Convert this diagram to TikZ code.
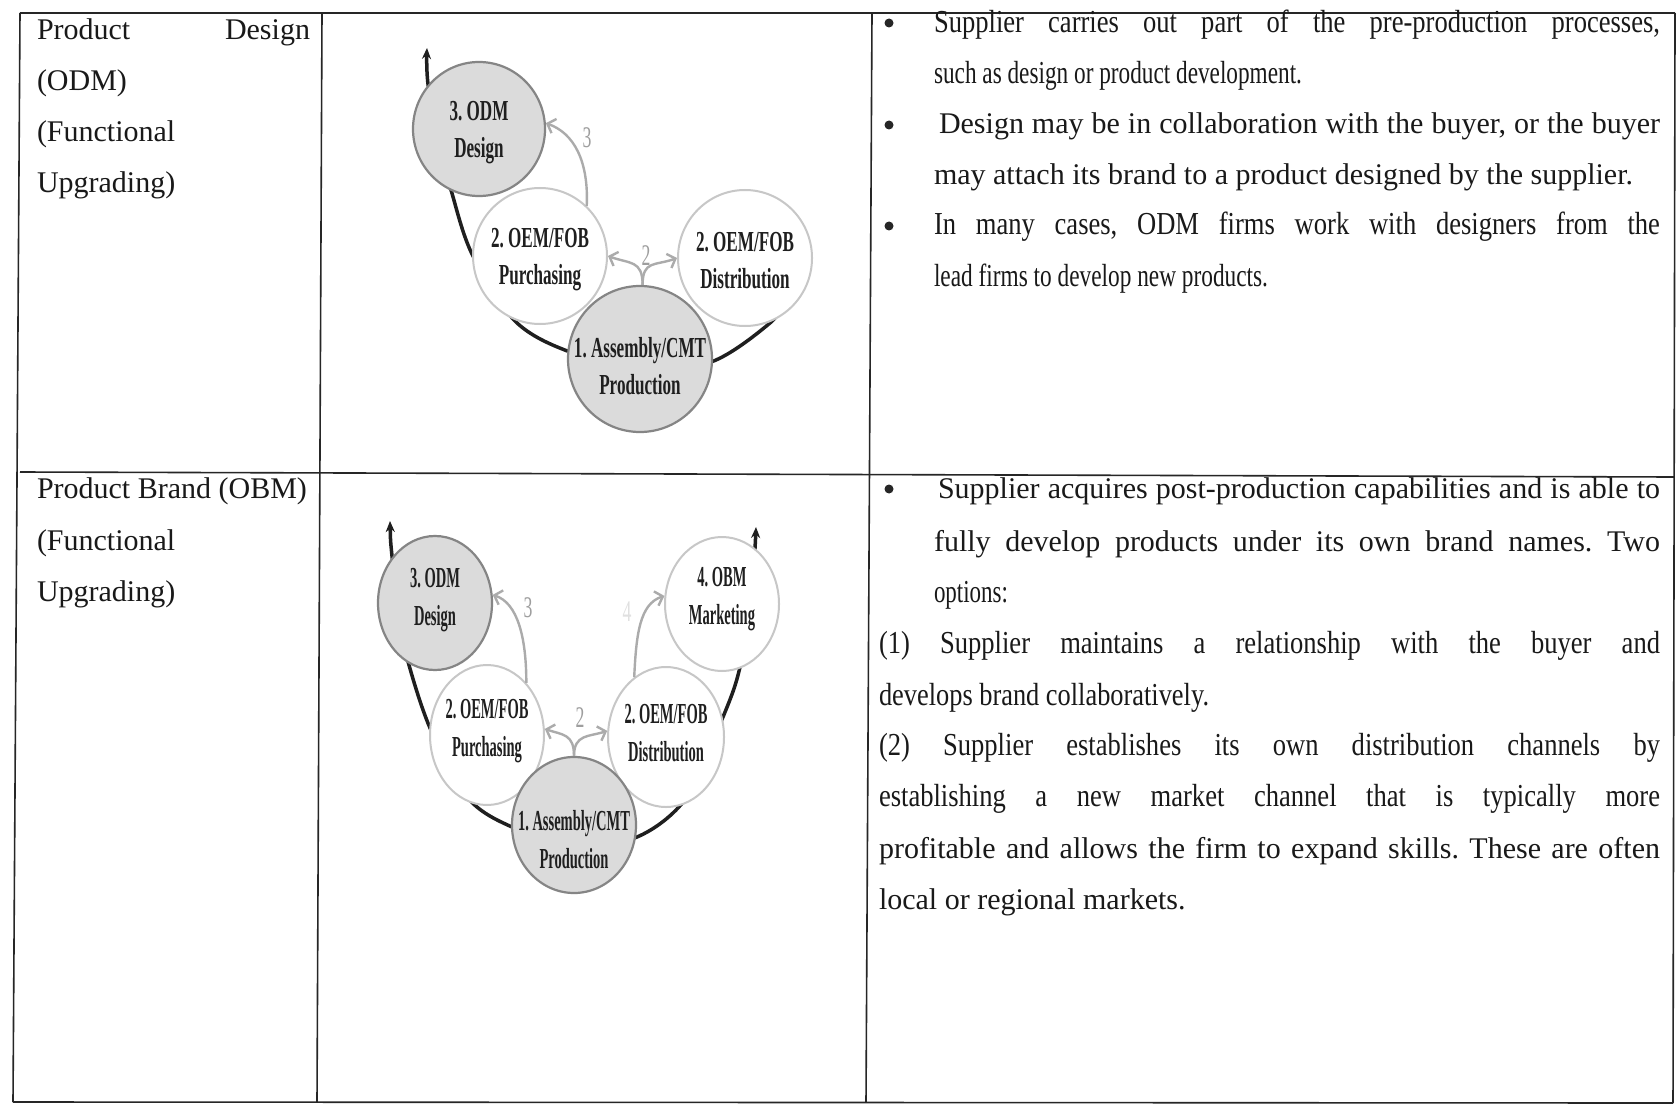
\documentclass[tikz,border=0pt]{standalone}
\usepackage{fontspec}
\setmainfont{Liberation Serif}
\newfontfamily\condf[FakeStretch=0.83]{Liberation Serif}
\newfontfamily\lblA[FakeStretch=0.59]{Liberation Serif}
\newfontfamily\lblB[FakeStretch=0.5]{Liberation Serif}
\usetikzlibrary{shapes.geometric,arrows.meta}
\frenchspacing

% a ragged line squeezed to a given width, height kept
\newcommand{\fitline}[2]{{\fontsize{32}{36}\selectfont\resizebox{#1}{\height}{#2}}}
% a narrow justified line
\newcommand{\narrowjust}[2]{{\condf\fontsize{32}{36}\selectfont\makebox[#1][s]{#2}}}

\begin{document}
\begin{tikzpicture}[x=1pt,y=-1pt,
  body/.style={font=\fontsize{30}{36}\selectfont, text=black!90, inner sep=0pt, outer sep=0pt, anchor=base west},
  dot/.style={circle, fill=black!85, inner sep=0pt, minimum size=9pt},
  rule/.style={line width=1.6pt, draw=black!85},
  darkc/.style={ellipse, draw=black!48, line width=2.2pt, fill=black!14, inner sep=0pt},
  lightc/.style={ellipse, draw=black!22, line width=2pt, fill=white, inner sep=0pt},
  lblone/.style={font=\lblA\bfseries\fontsize{29}{37}\selectfont, align=center, text=black!88, inner sep=0pt},
  lbltwo/.style={font=\lblB\bfseries\fontsize{29}{38}\selectfont, align=center, text=black!88, inner sep=0pt},
  upg/.style={line width=2.4pt, draw=black!33, arrows={-Straight Barb[length=7pt,width=15pt]}},
  upgnum/.style={font=\lblA\fontsize{30}{30}\selectfont, text=black!38, inner sep=0pt},
  smile/.style={line width=3.5pt, draw=black!88, line cap=round}
]
\fill[white] (0,0) rectangle (1677,1107);
\useasboundingbox (0,0) rectangle (1677,1107);

% ---- table rules ----
\draw[rule] (20,13) -- (1675,13);
\draw[rule] (20,472) -- (1674,477);
\draw[rule] (13,1102) -- (1673,1103);
\draw[rule] (20,13) -- (13,1102);
\draw[rule] (322,13) -- (317,1102);
\draw[rule] (872,13) -- (866,1102);
\draw[rule] (1675,13) -- (1673,1103);

% ---- first column ----
\node[body] (ta1) at (37,40) {\makebox[273pt][s]{Product Design}};
\node[body] (ta2) at (37,91) {(ODM)};
\node[body] (ta3) at (37,142) {(Functional};
\node[body] (ta4) at (37,193) {Upgrading)};
\node[body] (tb1) at (37,498) {Product Brand (OBM)};
\node[body] (tb2) at (37,550) {(Functional};
\node[body] (tb3) at (37,601) {Upgrading)};

% ---- third column, upper row ----
\node[dot] (u1) at (889,23) {};
\node[body] (ua1) at (934,33) {\narrowjust{726pt}{Supplier carries out part of the pre-production processes,}};
\node[body] (ua2) at (934,84) {\fitline{368pt}{such as design or product development.}};
\node[dot] (u2) at (889,125) {};
\node[body] (ua3) at (939,134) {\makebox[721pt][s]{Design may be in collaboration with the buyer, or the buyer}};
\node[body] (ua4) at (934,185) {may attach its brand to a product designed by the supplier.};
\node[dot] (u3) at (889,226) {};
\node[body] (ua5) at (934,235) {\narrowjust{726pt}{In many cases, ODM firms work with designers from the}};
\node[body] (ua6) at (934,286) {\fitline{334pt}{lead firms to develop new products.}};

% ---- third column, lower row ----
\node[dot] (v1) at (889,489) {};
\node[body] (va1) at (938,498) {\makebox[722pt][s]{Supplier acquires post-production capabilities and is able to}};
\node[body] (va2) at (934,551) {\makebox[726pt][s]{fully develop products under its own brand names. Two}};
\node[body] (va3) at (934,602) {\fitline{74pt}{options:}};
\node[body] (va4) at (879,653) {\narrowjust{781pt}{(1) Supplier maintains a relationship with the buyer and}};
\node[body] (va5) at (879,705) {\fitline{330pt}{develops brand collaboratively.}};
\node[body] (va6) at (879,755) {\narrowjust{781pt}{(2) Supplier establishes its own distribution channels by}};
\node[body] (va7) at (879,806) {\narrowjust{781pt}{establishing a new market channel that is typically more}};
\node[body] (va8) at (879,858) {\makebox[781pt][s]{profitable and allows the firm to expand skills. These are often}};
\node[body] (va9) at (879,909) {local or regional markets.};

% ---- upper diagram: smile curve behind the stages ----
\coordinate (oa) at (427,48);
\coordinate (ob) at (428,84);
\coordinate (oc) at (440,150);
\coordinate (od) at (451,190);
\coordinate (oe) at (472,254);
\coordinate (of) at (515,321);
\coordinate (og) at (570,352);
\coordinate (oh) at (640,368);
\coordinate (oi) at (711,362);
\coordinate (oj) at (770,323);
\coordinate (ok) at (785,300);
\draw[smile, arrows={-Stealth[length=11pt,width=9pt]}] plot[smooth, tension=0.55]
  coordinates {(ok) (oj) (oi) (oh) (og) (of) (oe) (od) (oc) (ob) (oa)};

\node[darkc, minimum width=132pt, minimum height=134pt] (odesign) at (479,129) {};
\node[lightc, minimum width=134pt, minimum height=136pt] (opurch) at (540,256) {};
\node[lightc, minimum width=134pt, minimum height=136pt] (odist) at (745,258) {};
\node[darkc, minimum width=144pt, minimum height=146pt] (oprod) at (640,359) {};

\node[lblone] (odesignT) at (479,133) {3. ODM\\Design};
\node[lblone] (opurchT) at (540,260) {2. OEM/FOB\\Purchasing};
\node[lblone] (odistT) at (745,261) {2. OEM/FOB\\Distribution};
\node[lblone] (oprodT) at (640,366) {1. Assembly/CMT\\Production};

\draw[upg] (opurch.47) .. controls +(2,-45) and +(28,10) .. (odesign.5);
\node[upgnum] (othree) at (587,138) {3};
\draw[upg] (oprod.88) .. controls +(0,-25) and +(22,8) .. (opurch.east);
\draw[upg] (oprod.88) .. controls +(0,-25) and +(-22,8) .. (odist.west);
\node[upgnum] (otwo) at (646,256) {2};

% ---- lower diagram: smile curve behind the stages ----
\coordinate (ba) at (390,521);
\coordinate (bb) at (392,556);
\coordinate (bc) at (400,620);
\coordinate (bd) at (407,658);
\coordinate (be) at (430,728);
\coordinate (bf) at (467,797);
\coordinate (bg) at (512,827);
\coordinate (bh) at (574,845);
\coordinate (bi) at (637,837);
\coordinate (bj) at (687,797);
\coordinate (bk) at (723,717);
\coordinate (bl) at (740,667);
\coordinate (bm) at (752,590);
\coordinate (bn) at (755,548);
\coordinate (bo) at (756,527);
\draw[smile, arrows={Stealth[length=11pt,width=9pt]-Stealth[length=11pt,width=9pt]}] plot[smooth, tension=0.55]
  coordinates {(ba) (bb) (bc) (bd) (be) (bf) (bg) (bh) (bi) (bj) (bk) (bl) (bm) (bn) (bo)};

\node[darkc, minimum width=114pt, minimum height=134pt] (bdesign) at (435,603) {};
\node[lightc, minimum width=114pt, minimum height=134pt] (bmkt) at (722,604) {};
\node[lightc, minimum width=114pt, minimum height=140pt] (bpurch) at (487,735) {};
\node[lightc, minimum width=116pt, minimum height=140pt] (bdist) at (666,737) {};
\node[darkc, minimum width=124pt, minimum height=136pt] (bprod) at (574,825) {};

\node[lbltwo] (bdesignT) at (435,600) {3. ODM\\Design};
\node[lbltwo] (bmktT) at (722,599) {4. OBM\\Marketing};
\node[lbltwo] (bpurchT) at (487,731) {2. OEM/FOB\\Purchasing};
\node[lbltwo] (bdistT) at (666,733) {2. OEM/FOB\\Distribution};
\node[lbltwo] (bprodT) at (574,840) {1. Assembly/CMT\\Production};

\draw[upg] (bpurch.53) .. controls +(0,-45) and +(25,8) .. (bdesign.8);
\node[upgnum] (bthree) at (528,608) {3};
\draw[upg] (bdist.118) .. controls +(2,-42) and +(-25,8) .. (bmkt.172);
\node[upgnum, text=black!12] (bfour) at (627,612) {4};
\draw[upg] (bprod.90) .. controls +(0,-22) and +(18,6) .. (bpurch.6);
\draw[upg] (bprod.90) .. controls +(0,-22) and +(-18,6) .. (bdist.174);
\node[upgnum] (btwo) at (580,718) {2};
\end{tikzpicture}
\end{document}
